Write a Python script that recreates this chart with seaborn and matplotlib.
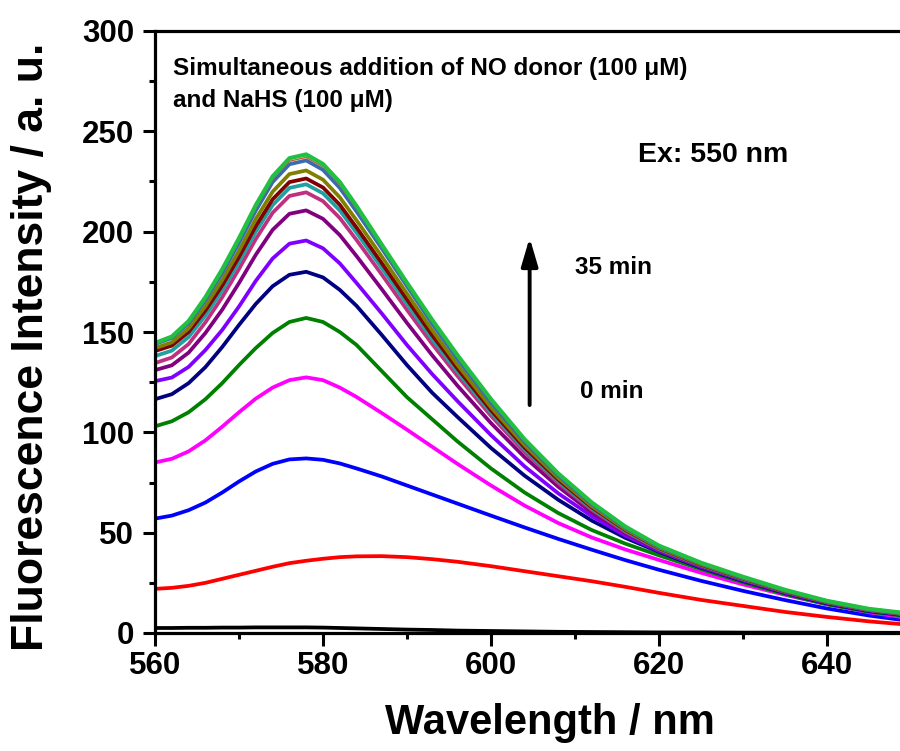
import numpy as np
import pandas as pd
import matplotlib
matplotlib.use("Agg")
import matplotlib.pyplot as plt
import seaborn as sns
from matplotlib.ticker import MultipleLocator

sns.set_style("ticks")
plt.rcParams['font.family'] = ['Liberation Sans', 'DejaVu Sans']
plt.rcParams['font.weight'] = 'bold'
plt.rcParams['text.color'] = 'black'
plt.rcParams['axes.labelcolor'] = 'black'
plt.rcParams['axes.edgecolor'] = 'black'
plt.rcParams['xtick.color'] = 'black'
plt.rcParams['ytick.color'] = 'black'

wavelength = [560, 562, 564, 566, 568, 570, 572, 574, 576, 578, 580, 582, 584, 587, 590,
              593, 596, 600, 604, 608, 612, 616, 620, 625, 630, 635, 640, 645, 650]

series_names = ["0 min", "t1", "t2", "t3", "t4", "t5", "t6", "t7", "t8", "t9",
                "t10", "t11", "t12", "t13", "35 min"]

s_black = [2.5, 2.5, 2.6, 2.6, 2.7, 2.7, 2.8, 2.8, 2.8, 2.8, 2.7, 2.5, 2.3, 2.0, 1.7,
           1.5, 1.2, 1.0, 0.8, 0.6, 0.5, 0.4, 0.3, 0.3, 0.2, 0.2, 0.2, 0.1, 0.1]
s_red = [22, 22.5, 23.5, 25, 27, 29, 31, 33, 34.8, 36, 37, 37.8, 38.2, 38.3, 37.8,
         36.8, 35.5, 33.3, 30.8, 28.3, 25.8, 23, 20, 16.5, 13.5, 10.5, 8, 5.8, 4]
s_blue = [57, 58.5, 61.2, 65, 70, 75.5, 80.5, 84.3, 86.5, 87, 86.3, 84.5, 82, 78, 73.5,
          69, 64.5, 58.5, 52.6, 46.9, 41.5, 36.3, 31.5, 26, 21, 16.4, 12.2, 8.7, 5.9]
s_magenta = [85, 86.8, 90.5, 96, 102.8, 110, 116.8, 122.3, 126, 127.4, 126, 122.3, 117.6, 109.6, 101.3,
             92.8, 84.3, 73.5, 63.5, 54.8, 47.6, 41.6, 36.4, 30, 24.2, 19, 14.3, 10.3, 7.3]
s_green = [103, 105.5, 110, 116.5, 124.5, 133.5, 142, 149.5, 155, 157, 155, 150, 143.5, 130.5, 117.5,
           106.5, 95.5, 82, 70, 59.8, 51.3, 44.5, 38.7, 31.8, 25.3, 19.4, 14.3, 10.6, 8.2]
s_navy = [116.5, 119, 124.5, 132.5, 142.5, 153.5, 164, 172.8, 178.5, 180, 177.2, 171, 163, 148.5, 133.5,
          119.7, 107.7, 92.2, 78.4, 66.4, 56, 47.4, 40.4, 32.5, 25.9, 19.9, 14.7, 10.9, 8.5]
s_violet = [125.5, 127.3, 132.6, 141, 151, 162.7, 175.5, 186.6, 194, 195.6, 191.7, 184.2, 174.4, 159.2, 143.5,
            129, 115.6, 98.6, 83, 69.6, 58.2, 48.5, 40.9, 32.9, 26.3, 20.2, 15, 11.2, 8.7]
s_purple = [131, 133.4, 139.7, 149.5, 161.1, 174.4, 188.5, 200.9, 208.9, 210.6, 206.4, 198.3, 187.8, 171.3, 154.5,
            138.4, 123.3, 104.6, 87.6, 72.9, 60.1, 49.8, 41.4, 33.3, 26.6, 20.4, 15.2, 11.3, 8.9]
s_pink = [134.5, 137.3, 144, 154.8, 167.3, 181.4, 196.3, 209.4, 217.8, 219.6, 215.2, 206.8, 195.8, 178.6, 161,
          144, 128.1, 108.2, 90.2, 74.7, 61.4, 50.4, 41.7, 33.6, 26.8, 20.6, 15.3, 11.4, 9]
s_teal = [138, 140.7, 147.5, 158.2, 170.7, 184.9, 200, 213.2, 221.8, 223.6, 219.1, 210.6, 199.4, 181.9, 164,
          146.4, 130.2, 109.8, 91.4, 75.6, 62, 50.9, 42, 33.8, 26.9, 20.7, 15.4, 11.5, 9.1]
s_darkred = [140.5, 143.2, 150, 160.7, 173.2, 187.4, 202.8, 216.1, 224.7, 226.5, 222, 213.4, 202, 184.3, 166.2,
             148.4, 131.8, 111, 92.4, 76.4, 62.6, 51.3, 42.3, 34, 27.1, 20.8, 15.5, 11.6, 9.2]
s_olive = [142, 144.8, 151.8, 162.9, 175.9, 190.5, 206.3, 219.9, 228.7, 230.5, 225.9, 217.1, 205.6, 187.6, 169.1,
           150.9, 133.7, 112.5, 93.6, 77.3, 63.2, 51.7, 42.5, 34.3, 27.3, 21, 15.6, 11.7, 9.3]
s_steel = [144, 147, 154.3, 165.9, 179.3, 194.4, 210.5, 224.7, 233.6, 235.5, 230.8, 221.8, 210, 191.6, 172.8,
           154.1, 136.6, 114.9, 95.3, 78.5, 64.2, 52.4, 43, 34.7, 27.6, 21.2, 15.8, 11.8, 9.4]
s_brown = [144.3, 147.3, 154.9, 166.6, 180.3, 195.6, 211.9, 226.1, 235.1, 237, 232.3, 223.3, 211.4, 192.9, 173.9,
           155.1, 137.6, 115.6, 95.9, 79.1, 64.6, 52.8, 43.3, 34.9, 27.8, 21.4, 15.9, 11.9, 9.5]
s_top = [144.5, 147.7, 155.4, 167.3, 181.2, 196.7, 213.2, 227.5, 236.6, 238.5, 233.7, 224.7, 212.7, 193.5, 174.5,
         156, 138.5, 116.5, 96.5, 79.5, 65, 53, 43.5, 35, 28, 21.5, 16, 12, 9.6]

all_series = [s_black, s_red, s_blue, s_magenta, s_green, s_navy, s_violet, s_purple,
              s_pink, s_teal, s_darkred, s_olive, s_steel, s_brown, s_top]
colors = ["#000000", "#FF0000", "#0000FF", "#FF00FF", "#008000", "#000080", "#8000FF",
          "#800080", "#C03080", "#20A0A0", "#800000", "#808000", "#3A6BB0", "#C06030",
          "#22C040"]
widths = [2.7] * 13 + [1.0, 3.0]

df = pd.DataFrame({
    "wavelength": np.tile(wavelength, len(all_series)),
    "intensity": np.concatenate([np.asarray(s, float) for s in all_series]),
    "series": np.repeat(series_names, len(wavelength)),
})

fig = plt.figure(figsize=(9, 7.51), dpi=100)
ax = fig.add_axes([155 / 900, (751 - 633) / 751, 756 / 900, 602 / 751])

for name, col, lw in zip(series_names, colors, widths):
    sub = df[df["series"] == name]
    sns.lineplot(data=sub, x="wavelength", y="intensity", color=col, linewidth=lw,
                 ax=ax, legend=False, sort=False)

ax.set_xlim(560, 650)
ax.set_ylim(0, 300)
ax.xaxis.set_major_locator(MultipleLocator(20))
ax.xaxis.set_minor_locator(MultipleLocator(10))
ax.yaxis.set_major_locator(MultipleLocator(50))
ax.yaxis.set_minor_locator(MultipleLocator(25))
ax.tick_params(which="major", direction="out", length=9, width=2.2, labelsize=22.5,
               color="black", labelcolor="black")
ax.tick_params(which="minor", direction="out", length=4.5, width=2.2, color="black")
ax.tick_params(axis="x", which="major", pad=4)
ax.tick_params(axis="y", which="major", pad=6)
ax.tick_params(top=False, right=False)
for lab in ax.get_xticklabels() + ax.get_yticklabels():
    lab.set_fontweight("bold")
for sp in ["left", "bottom", "top"]:
    ax.spines[sp].set_linewidth(2.3)
    ax.spines[sp].set_color("black")
    ax.spines[sp].set_visible(True)
ax.spines["right"].set_visible(False)

ax.set_xlabel("Wavelength / nm", fontsize=30, fontweight="bold", color="black")
ax.xaxis.set_label_coords(0.522, (633 - 703) / 602)
ax.set_ylabel("Fluorescence Intensity / a. u.", fontsize=32, fontweight="bold", va="center",
              color="black")
ax.yaxis.set_label_coords((31 - 155) / 756, 0.475)

ax.text(562.2, 281.5, "Simultaneous addition of NO donor (100 \u03bcM)", fontsize=17.5,
        fontweight="bold", va="center", ha="left", color="black")
ax.text(562.2, 265.5, "and NaHS (100 \u03bcM)", fontsize=17.5, fontweight="bold",
        va="center", ha="left", color="black")
ax.text(617.5, 238, "Ex: 550 nm", fontsize=20.5, fontweight="bold", va="center", ha="left",
        color="black")
ax.text(610, 182, "35 min", fontsize=17.5, fontweight="bold", va="center", ha="left",
        color="black")
ax.text(610.6, 120.2, "0 min", fontsize=17.5, fontweight="bold", va="center", ha="left",
        color="black")
ax.annotate("", xy=(604.6, 197), xytext=(604.6, 113.6),
            arrowprops=dict(arrowstyle="-|>,head_length=0.85,head_width=0.25",
                            color="black", lw=2.8, mutation_scale=20,
                            shrinkA=0, shrinkB=0))

fig.savefig("out.png", dpi=100)
